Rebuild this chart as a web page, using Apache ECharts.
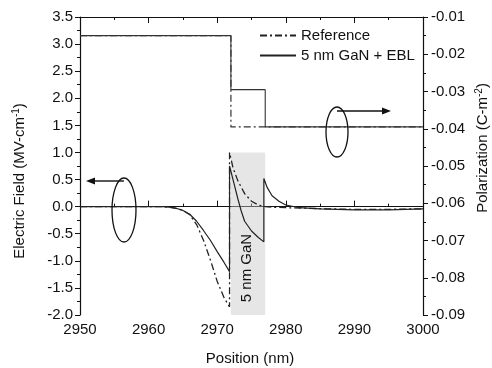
<!DOCTYPE html>
<html><head><meta charset="utf-8">
<script src="https://cdn.jsdelivr.net/npm/echarts@6/dist/echarts.min.js"></script>
<style>html,body{margin:0;padding:0;background:#fff}#c{width:492px;height:368px}</style>
</head><body><div id="c"></div>
<script>
// ---- data ----
const seriesNames = ['Reference', '5 nm GaN + EBL'];
const xTicks = [2950, 2960, 2970, 2980, 2990, 3000];
const fieldTicks = [-2.0, -1.5, -1.0, -0.5, 0.0, 0.5, 1.0, 1.5, 2.0, 2.5, 3.0, 3.5];
const polTicks = [-0.09, -0.08, -0.07, -0.06, -0.05, -0.04, -0.03, -0.02, -0.01];

const fieldRefX = [2950,2955,2960,2962,2963,2964,2965,2966,2967,2968,2969,2970,2971,2971.8,2971.8,2972.3,2973,2974,2975,2976,2977,2978,2980,2983,2986,2990,2995,3000];
const fieldRefY = [0,0,0,0,-0.01,-0.03,-0.07,-0.15,-0.33,-0.62,-0.98,-1.38,-1.68,-1.85,1.0,0.72,0.48,0.24,0.1,0.03,0.0,-0.01,-0.02,-0.03,-0.04,-0.05,-0.05,-0.04];

const fieldEblX = [2950,2955,2960,2962,2963,2964,2965,2966,2967,2968,2969,2970,2971,2971.8,2971.8,2972.5,2973,2973.5,2974,2975,2976,2976.8,2976.8,2977.3,2978,2979,2980,2982,2985,2990,2995,3000];
const fieldEblY = [0,0,0,0,-0.01,-0.03,-0.07,-0.14,-0.27,-0.44,-0.62,-0.83,-1.03,-1.2,0.75,0.4,0.15,-0.08,-0.27,-0.45,-0.57,-0.65,0.52,0.35,0.2,0.1,0.03,-0.02,-0.04,-0.06,-0.06,-0.04];

const polRefX = [2950,2972,2972,3000];
const polRefY = [-0.015,-0.015,-0.0395,-0.0395];
const polEblX = [2950,2972,2972,2977,2977,3000];
const polEblY = [-0.015,-0.015,-0.0295,-0.0295,-0.0395,-0.0395];

const ganRegion = [2972, 2977];
const ganRegionField = [1.0, -2.0];

// ---- chart ----
const zip = (a, b) => a.map((v, i) => [v, b[i]]);
const dashDot = [7, 3, 2, 3];
const txt = '#111';
const font = 'Liberation Sans, Arial, sans-serif';
const fs = 15;

const chart = echarts.init(document.getElementById('c'), null, {renderer: 'canvas'});
const axisCommon = {
  axisLine: {lineStyle: {color: '#111', width: 1.2}},
  splitLine: {show: false}
};
chart.setOption({
  backgroundColor: '#fff',
  animation: false,
  grid: {left: 80, right: 69, top: 17, bottom: 53},
  legend: {
    data: seriesNames, orient: 'vertical', left: 254, top: 23,
    itemWidth: 36, itemHeight: 10, itemGap: 5,
    itemStyle: {opacity: 0},
    textStyle: {color: txt, fontSize: fs, fontFamily: font}
  },
  xAxis: [
    Object.assign({}, axisCommon, {
      type: 'value', min: xTicks[0], max: xTicks[xTicks.length - 1], interval: 10, position: 'bottom',
      axisTick: {inside: true, length: 6, lineStyle: {color: '#111'}},
      minorTick: {show: true, splitNumber: 2, length: 3, lineStyle: {color: '#111'}},
      axisLabel: {color: txt, fontSize: fs, fontFamily: font, margin: 7, formatter: v => String(v)}
    }),
    Object.assign({}, axisCommon, {
      type: 'value', min: xTicks[0], max: xTicks[xTicks.length - 1], interval: 10, position: 'top',
      axisTick: {inside: true, length: 6, lineStyle: {color: '#111'}},
      minorTick: {show: true, splitNumber: 2, length: 3, lineStyle: {color: '#111'}},
      axisLabel: {show: false}
    })
  ],
  yAxis: [
    Object.assign({}, axisCommon, {
      type: 'value', min: fieldTicks[0], max: fieldTicks[fieldTicks.length - 1], interval: 0.5, position: 'left',
      axisTick: {inside: false, length: 5, lineStyle: {color: '#111'}},
      minorTick: {show: true, splitNumber: 2, length: 3, lineStyle: {color: '#111'}},
      axisLabel: {color: txt, fontSize: fs, fontFamily: font, margin: 7, formatter: v => v.toFixed(1)}
    }),
    Object.assign({}, axisCommon, {
      type: 'value', min: polTicks[0], max: polTicks[polTicks.length - 1], interval: 0.01, position: 'right',
      axisTick: {inside: false, length: 5, lineStyle: {color: '#111'}},
      minorTick: {show: true, splitNumber: 2, length: 3, lineStyle: {color: '#111'}},
      axisLabel: {color: txt, fontSize: fs, fontFamily: font, margin: 8, formatter: v => v.toFixed(2)}
    })
  ],
  series: [
    {
      name: seriesNames[0], type: 'line', xAxisIndex: 0, yAxisIndex: 0, symbol: 'none',
      data: zip(fieldRefX, fieldRefY),
      lineStyle: {color: '#222', width: 1.3, type: dashDot},
      itemStyle: {color: '#222'},
      markArea: {
        silent: true,
        itemStyle: {color: 'rgba(200,200,200,0.45)'},
        data: [[{xAxis: ganRegion[0], yAxis: ganRegionField[0]}, {xAxis: ganRegion[1], yAxis: ganRegionField[1]}]]
      },
      z: 3
    },
    {
      name: seriesNames[1], type: 'line', xAxisIndex: 0, yAxisIndex: 0, symbol: 'none',
      data: zip(fieldEblX, fieldEblY),
      lineStyle: {color: '#222', width: 1.2},
      itemStyle: {color: '#222'},
      z: 4
    },
    {
      name: seriesNames[0], type: 'line', xAxisIndex: 0, yAxisIndex: 1, symbol: 'none',
      data: zip(polRefX, polRefY),
      lineStyle: {color: '#333', width: 1.2, type: dashDot},
      itemStyle: {color: '#222'},
      z: 3
    },
    {
      name: seriesNames[1], type: 'line', xAxisIndex: 0, yAxisIndex: 1, symbol: 'none',
      data: zip(polEblX, polEblY),
      lineStyle: {color: '#333', width: 1.1},
      itemStyle: {color: '#222'},
      z: 4
    }
  ],
  graphic: [
    {type: 'text', x: 20, y: 181, rotation: Math.PI / 2,
     style: {text: 'Electric Field (MV-cm{s|-1})', fill: txt, font: '15px ' + font, align: 'center', verticalAlign: 'middle',
       rich: {s: {fontSize: 10, verticalAlign: 'top', fill: txt, fontFamily: font, padding: [0, 0, 8, 0]}}}},
    {type: 'text', x: 483, y: 148, rotation: Math.PI / 2,
     style: {text: 'Polarization (C-m{s|-2})', fill: txt, font: '15px ' + font, align: 'center', verticalAlign: 'middle',
       rich: {s: {fontSize: 10, verticalAlign: 'top', fill: txt, fontFamily: font, padding: [0, 0, 8, 0]}}}},
    {type: 'text', x: 250, y: 359,
     style: {text: 'Position (nm)', fill: txt, font: '15px ' + font, align: 'center', verticalAlign: 'middle'}},
    {type: 'text', x: 247, y: 268, rotation: Math.PI / 2, z: 10,
     style: {text: '5 nm GaN', fill: txt, font: '15px ' + font, align: 'center', verticalAlign: 'middle'}},
    // annotation ovals and arrows
    {type: 'ellipse', shape: {cx: 124, cy: 210, rx: 12, ry: 32}, style: {fill: 'none', stroke: '#111', lineWidth: 1.3}, z: 10},
    {type: 'line', shape: {x1: 124, y1: 181, x2: 92, y2: 181}, style: {stroke: '#111', lineWidth: 1.4}, z: 10},
    {type: 'polygon', shape: {points: [[86, 181], [95, 177.5], [95, 184.5]]}, style: {fill: '#111'}, z: 10},
    {type: 'ellipse', shape: {cx: 337, cy: 132, rx: 11, ry: 25}, style: {fill: 'none', stroke: '#111', lineWidth: 1.3}, z: 10},
    {type: 'line', shape: {x1: 337, y1: 111, x2: 384, y2: 111}, style: {stroke: '#111', lineWidth: 1.4}, z: 10},
    {type: 'polygon', shape: {points: [[391, 111], [382, 107.5], [382, 114.5]]}, style: {fill: '#111'}, z: 10}
  ]
});
</script>
</body></html>
